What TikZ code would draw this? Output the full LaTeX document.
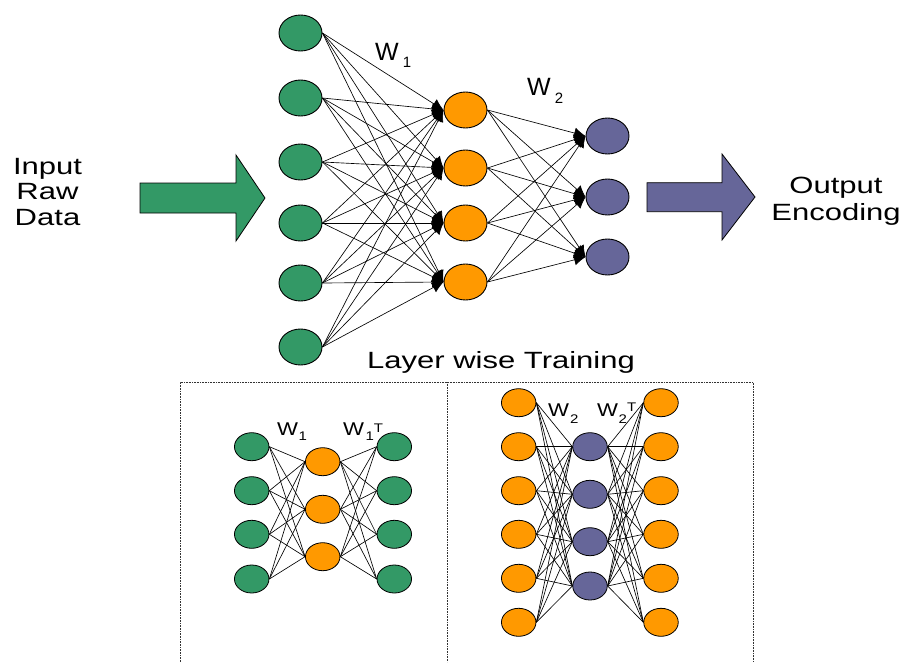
\documentclass[tikz,border=0pt]{standalone}
\usepackage{fontspec}
\setmainfont{Liberation Sans}
\newfontfamily\widesans{Liberation Sans}[FakeStretch=1.32]
\newfontfamily\midsans{Liberation Sans}[FakeStretch=1.2]
\usetikzlibrary{shapes.geometric, arrows.meta}
\definecolor{nngreen}{HTML}{339966}
\definecolor{nnorange}{HTML}{FF9900}
\definecolor{nnpurple}{HTML}{666699}
\begin{document}
\begin{tikzpicture}[x=1pt,y=-1pt,
  big/.style={ellipse, draw=black, line width=0.9pt, minimum width=43pt, minimum height=36pt, inner sep=0pt},
  small/.style={ellipse, draw=black, line width=0.8pt, minimum width=34.5pt, minimum height=28pt, inner sep=0pt},
  conn/.style={line width=0.65pt},
  arr/.style={conn, -{Latex[length=11.5pt,width=11pt]}},
  lbl/.style={inner sep=0pt, anchor=base, font=\widesans\fontsize{23.5}{26}\selectfont},
  wtop/.style={inner sep=0pt, anchor=base west, font=\fontsize{25}{25}\selectfont},
  wbot/.style={inner sep=0pt, anchor=base west, font=\midsans\fontsize{18.5}{18.5}\selectfont},
  boxline/.style={densely dotted, line width=0.6pt, draw=black!80},
  blockarrow/.style={draw=black, line width=0.8pt}
]
\useasboundingbox (0,0) rectangle (903,662);

% ---------- top network ----------
\foreach \y [count=\i] in {33,98,162,223,283,347}
  \node[big, fill=nngreen] (in\i) at (300.5,\y) {};
\foreach \y [count=\i] in {110,168,223,282}
  \node[big, fill=nnorange] (h\i) at (465.5,\y) {};
\foreach \y [count=\i] in {136,197,257}
  \node[big, fill=nnpurple] (o\i) at (607.5,\y) {};

\foreach \i in {1,...,6}
  \foreach \j in {1,...,4}
    \draw[arr] (in\i.east) -- (h\j.west);
\foreach \i in {1,...,4}
  \foreach \j in {1,...,3}
    \draw[arr] (h\i.east) -- (o\j.west);

\node[wtop] (w1top) at (375,60) {W\kern4pt\raisebox{-7pt}{\fontsize{15}{15}\selectfont 1}};
\node[wtop] (w2top) at (527,95) {W\kern4pt\raisebox{-8pt}{\fontsize{15}{15}\selectfont 2}};

% ---------- block arrows ----------
\draw[blockarrow, fill=nngreen] (140,183) -- (236,183) -- (236,155) -- (265,198)
  -- (236,241) -- (236,213) -- (140,213) -- cycle;
\draw[blockarrow, fill=nnpurple] (647,182.7) -- (722,182.7) -- (722,154) -- (755,197)
  -- (722,240) -- (722,211.7) -- (647,211.7) -- cycle;

% ---------- texts ----------
\node[lbl] (tin1) at (47.5,174.3) {Input};
\node[lbl] (tin2) at (47.5,199.3) {Raw};
\node[lbl] (tin3) at (47.5,225) {Data};
\node[lbl] (tout1) at (836,193.3) {Output};
\node[lbl] (tout2) at (836,220) {Encoding};
\node[lbl] (tlayer) at (501,368.3) {Layer wise Training};

% ---------- dotted frame ----------
\draw[boxline] (180.7,662) -- (180.7,382) -- (753,382) -- (753,662);
\draw[boxline] (447.5,382) -- (447.5,662);

% ---------- bottom-left autoencoder ----------
\foreach \y [count=\i] in {446.7,490.7,534.3,579}
  \node[small, fill=nngreen] (la\i) at (251.7,\y) {};
\foreach \y [count=\i] in {461.7,509.3,556.7}
  \node[small, fill=nnorange] (ma\i) at (322.7,\y) {};
\foreach \y [count=\i] in {446.7,490.7,534.3,579}
  \node[small, fill=nngreen] (ra\i) at (394.3,\y) {};
\foreach \i in {1,...,4}
  \foreach \j in {1,...,3}
    \draw[conn] (la\i.east) -- (ma\j.west);
\foreach \i in {1,...,3}
  \foreach \j in {1,...,4}
    \draw[conn] (ma\i.east) -- (ra\j.west);
\node[wbot] (w1a) at (277,435) {W\kern0.5pt\raisebox{-5.7pt}{\fontsize{12.5}{12.5}\selectfont 1}};
\node[wbot] (w1b) at (343,435) {W\kern1.5pt\raisebox{-5.7pt}{\fontsize{12.5}{12.5}\selectfont 1}\raisebox{3pt}{\fontsize{12.5}{12.5}\selectfont T}};

% ---------- bottom-right autoencoder ----------
\foreach \y [count=\i] in {402.7,446.7,490.7,534.3,578.3,622.3}
  \node[small, fill=nnorange] (lb\i) at (518.7,\y) {};
\foreach \y [count=\i] in {446.7,494.3,541.7,586}
  \node[small, fill=nnpurple] (mb\i) at (590,\y) {};
\foreach \y [count=\i] in {402.7,446.7,490.7,534.3,578.3,622.3}
  \node[small, fill=nnorange] (rb\i) at (661,\y) {};
\foreach \i in {1,...,6}
  \foreach \j in {1,...,4}
    \draw[conn] (lb\i.east) -- (mb\j.west);
\foreach \i in {1,...,4}
  \foreach \j in {1,...,6}
    \draw[conn] (mb\i.east) -- (rb\j.west);
\node[wbot] (w2a) at (548,416) {W\kern1pt\raisebox{-7pt}{\fontsize{12.5}{12.5}\selectfont 2}};
\node[wbot] (w2b) at (597,416) {W\kern0.5pt\raisebox{-7pt}{\fontsize{12.5}{12.5}\selectfont 2}\raisebox{5pt}{\fontsize{12.5}{12.5}\selectfont T}};
\end{tikzpicture}
\end{document}
